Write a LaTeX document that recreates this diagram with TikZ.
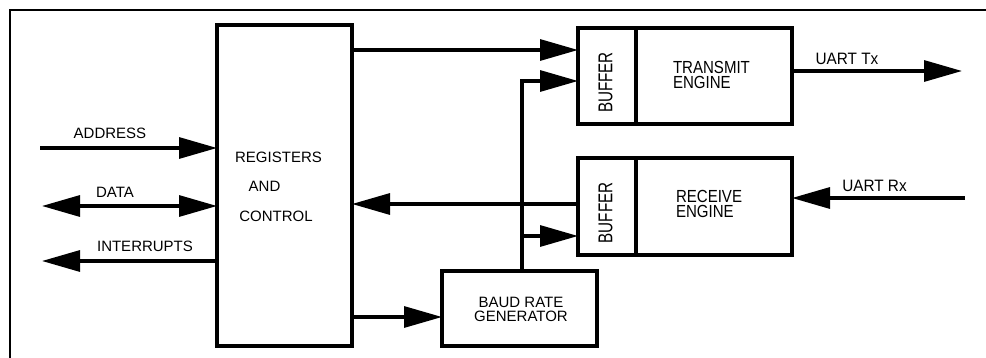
\documentclass[tikz,border=0pt]{standalone}
\usepackage{fontspec}
\setmainfont{Liberation Sans}
\newfontfamily\condA[FakeStretch=0.86]{Liberation Sans}
\newfontfamily\condB[FakeStretch=0.76]{Liberation Sans}
\newfontfamily\condC[FakeStretch=0.93]{Liberation Sans}
\usetikzlibrary{arrows.meta}
\begin{document}
\begin{tikzpicture}[x=1pt,y=-1pt,
  box/.style={draw, line width=3.2pt, rectangle, inner sep=0pt, outer sep=0pt},
  conn/.style={line width=3.2pt},
  arr/.style={conn, -{Triangle[length=38pt,width=21pt]}},
  darr/.style={conn, {Triangle[length=38pt,width=21pt]}-{Triangle[length=38pt,width=21pt]}},
  lbl/.style={inner sep=0pt, outer sep=0pt, font=\fontsize{15}{15}\selectfont, anchor=base},
  uart/.style={inner sep=0pt, outer sep=0pt, font=\condC\fontsize{16.5}{16.5}\selectfont, anchor=base},
  buf/.style={inner sep=0pt, outer sep=0pt, rotate=90, font=\condB\fontsize{20}{20}\selectfont},
  eng/.style={inner sep=0pt, outer sep=0pt, align=left, anchor=north west, font=\condA\fontsize{17.5}{15.5}\selectfont}
]
\useasboundingbox (0,0) rectangle (986,358);
% frame
\draw[line width=2.8pt] (10,358) -- (10,10) -- (986,10);
% blocks
\node[box, minimum width=135pt, minimum height=321pt] (reg) at (284.5,185.5) {};
\node[box, minimum width=58pt, minimum height=96pt] (txbuf) at (607,76) {};
\node[box, minimum width=156pt, minimum height=96pt] (txeng) at (714,76) {};
\node[box, minimum width=58pt, minimum height=97pt] (rxbuf) at (607,206.5) {};
\node[box, minimum width=156pt, minimum height=97pt] (rxeng) at (714,206.5) {};
\node[box, minimum width=155pt, minimum height=75pt] (brg) at (519.5,308.5) {};
% block texts
\node[lbl] (regt1) at (278.5,163) {REGISTERS};
\node[lbl] (regt2) at (264.5,192) {AND};
\node[lbl] (regt3) at (276,222) {CONTROL};
\node[buf] (txbuft) at (605.5,82.5) {BUFFER};
\node[buf] (rxbuft) at (605.5,213) {BUFFER};
\node[eng] (txengt) at (673,61) {TRANSMIT\\ENGINE};
\node[eng] (rxengt) at (676,190) {RECEIVE\\ENGINE};
\node[inner sep=0pt, align=center, font=\fontsize{15}{13.5}\selectfont] (brgt) at (521,309.5) {BAUD RATE\\GENERATOR};
% connector levels
\coordinate (addrS) at (40,148);
\coordinate (dataS) at (42,206);
\coordinate (intE) at (42,261);
\coordinate (txL) at (0,50);
\coordinate (bx) at (522,81);
\coordinate (rxL) at (0,204);
\coordinate (brL) at (522,236);
\coordinate (bgL) at (0,317);
\coordinate (txO) at (962,71);
\coordinate (rxI) at (965,198);
% connectors
\draw[arr] (addrS) -- (reg.west |- addrS);
\draw[darr] (dataS) -- (reg.west |- dataS);
\draw[arr] (reg.west |- intE) -- (intE);
\draw[arr] (reg.east |- txL) -- (txbuf.west |- txL);
\draw[arr] (bx |- brg.north) -- (bx) -- (txbuf.west |- bx);
\draw[arr] (rxbuf.west |- rxL) -- (reg.east |- rxL);
\draw[arr] (brL) -- (rxbuf.west |- brL);
\draw[arr] (reg.east |- bgL) -- (brg.west |- bgL);
\draw[arr] (txeng.east |- txO) -- (txO);
\draw[arr] (rxI) -- (rxeng.east |- rxI);
% labels
\node[lbl] (addrt) at (110,139) {ADDRESS};
\node[lbl] (datat) at (115,198) {DATA};
\node[lbl] (intt) at (145,252) {INTERRUPTS};
\node[uart] (txt) at (847,65) {UART Tx};
\node[uart] (rxt) at (874.5,192) {UART Rx};
\end{tikzpicture}
\end{document}
